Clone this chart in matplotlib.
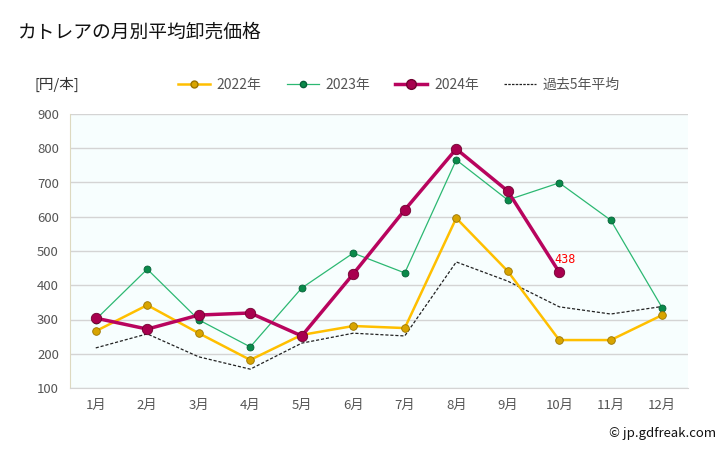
import numpy as np
import matplotlib
matplotlib.use("Agg")
import matplotlib.pyplot as plt
from matplotlib.lines import Line2D

plt.rcParams['font.family'] = ['Noto Sans CJK JP', 'DejaVu Sans']

# data
months = ['1月', '2月', '3月', '4月', '5月', '6月', '7月', '8月', '9月', '10月', '11月', '12月']
y2022 = [266, 342, 260, 182, 255, 281, 275, 596, 441, 240, 240, 313]
y2023 = [300, 447, 299, 220, 392, 494, 436, 766, 649, 699, 590, 334]
y2024 = [304, 272, 313, 319, 252, 433, 620, 798, 675, 438]
avg5 = [217, 258, 191, 155, 231, 260, 252, 468, 412, 337, 316, 338]

x = np.arange(len(months))

fig = plt.figure(figsize=(7.28, 4.5), dpi=100)
ax = fig.add_axes([70/728, 62/450, 618/728, 274/450])
ax.set_facecolor('#f7fefe')

ax.plot(x, avg5, color='#222222', lw=0.9, ls=(0, (2.5, 1.5)), zorder=2)
ax.plot(x, y2023, color='#2cb872', lw=0.9, marker='o', ms=5,
        mfc='#0a8a4a', mec='#066038', mew=0.6, zorder=3)
ax.plot(x, y2022, color='#ffbf00', lw=1.8, marker='o', ms=5.5,
        mfc='#d8a400', mec='#9a7400', mew=0.6, zorder=4)
ax.plot(x[:len(y2024)], y2024, color='#b8045e', lw=2.5, marker='o', ms=7.5,
        mfc='#a8004e', mec='#70002f', mew=0.6, zorder=5)
ax.text(x[len(y2024)-1] + 0.12, y2024[-1] + 17, str(y2024[-1]), color='red',
        fontsize=8.5, ha='center', va='bottom', family='DejaVu Sans Mono', zorder=6)

ax.set_xlim(-0.5, 11.5)
ax.set_ylim(100, 900)
ax.set_yticks(range(100, 901, 100))
ax.set_xticks(x)
ax.set_xticklabels(months)
ax.grid(axis='y', color='#d4d4d4', lw=1)
ax.set_axisbelow(True)
ax.tick_params(length=0, colors='#555555', labelsize=9.5, pad=8)
for side in ['top', 'right']:
    ax.spines[side].set_visible(False)
ax.spines['left'].set_color('#ddd9c0')
ax.spines['bottom'].set_color('#d4d4d4')

fig.text(18/728, 1 - 32/450, 'カトレアの月別平均卸売価格', fontsize=13.5, va='center', color='#111111')
fig.text(35/728, 1 - 84/450, '[円/本]', fontsize=10.5, va='center', color='#333333')

handles = [
    Line2D([], [], color='#ffbf00', lw=1.8, marker='o', ms=5, mfc='#d8a400', mec='#9a7400'),
    Line2D([], [], color='#2cb872', lw=0.9, marker='o', ms=4.5, mfc='#0a8a4a', mec='#066038'),
    Line2D([], [], color='#b8045e', lw=2.5, marker='o', ms=7, mfc='#a8004e', mec='#70002f'),
    Line2D([], [], color='#222222', lw=0.9, ls=(0, (2, 1))),
]
fig.legend(handles, ['2022年', '2023年', '2024年', '過去5年平均'], ncol=4,
           loc='center', bbox_to_anchor=(399/728, 1 - 85/450), frameon=False,
           fontsize=10, labelcolor='#555555', handlelength=2.3, handletextpad=0.5,
           columnspacing=1.8)

fig.text(716/728, 1 - 433/450, '© jp.gdfreak.com', fontsize=9.5, ha='right', va='center', color='#111111')

fig.savefig('out.png', dpi=100)
